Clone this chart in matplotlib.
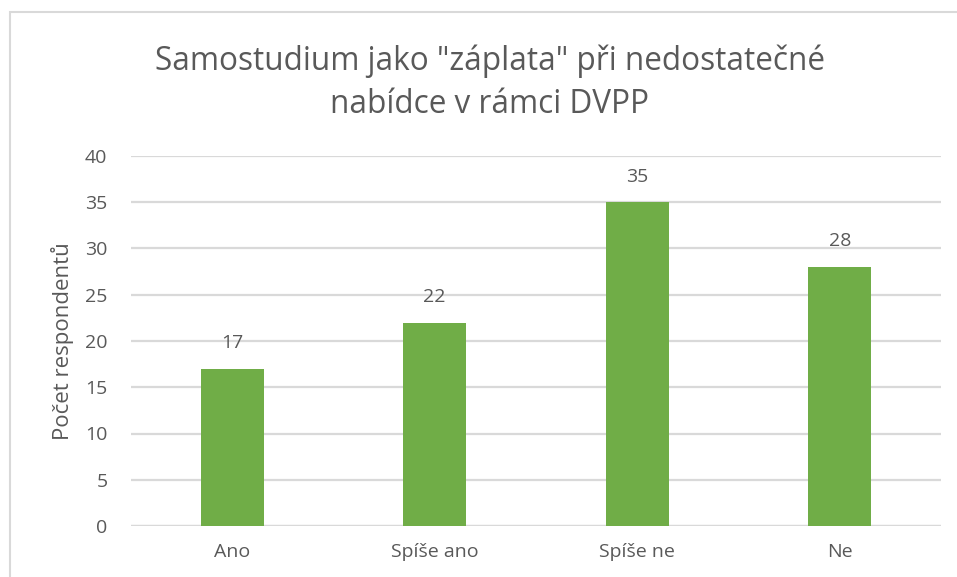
import matplotlib.pyplot as plt
from matplotlib.patches import Rectangle

categories = ['Ano', 'Spíše ano', 'Spíše ne', 'Ne']
values = [17, 22, 35, 28]
yticks = [0, 5, 10, 15, 20, 25, 30, 35, 40]

plt.rcParams['font.family'] = ['Open Sans', 'DejaVu Sans']
text_color = '#595959'
bar_color = '#70ad47'
grid_color = '#d9d9d9'

fig = plt.figure(figsize=(9.57, 5.77), dpi=100)
W, H = 957, 577
# axes in pixel coords: x 131..941, y 156..526 (top-down)
ax = fig.add_axes([131 / W, 1 - 526 / H, (941 - 131) / W, (526 - 156) / H])

x = list(range(len(categories)))
ax.bar(x, values, width=0.31, color=bar_color, zorder=3)
for xi, v in zip(x, values):
    ax.annotate(str(v), (xi, v), xytext=(0, 12), textcoords='offset points',
                ha='center', va='bottom', fontsize=14, color=text_color)

ax.set_xlim(-0.5, len(categories) - 0.5)
ax.set_ylim(0, 40)
ax.set_yticks(yticks)
ax.set_xticks(x)
ax.set_xticklabels(categories)
ax.yaxis.grid(True, color=grid_color, linewidth=1.6, zorder=0)
ax.set_axisbelow(True)
for s in ax.spines.values():
    s.set_visible(False)
ax.axhline(0, color=grid_color, linewidth=1.6, zorder=1)
ax.tick_params(axis='both', length=0, labelsize=14, labelcolor=text_color)
ax.tick_params(axis='y', pad=17)
ax.tick_params(axis='x', pad=12)
ax.set_ylabel('Počet respondentů', fontsize=16, color=text_color, labelpad=8)

fig.text(490 / W, 1 - 83 / H, 'Samostudium jako "záplata" při nedostatečné\nnabídce v rámci DVPP',
         ha='center', va='center', fontsize=22.7, color=text_color, linespacing=1.4)

# chart border (top and left visible)
fig.patches.append(Rectangle((10 / W, -0.1), 1.2, 1 - 12 / H + 0.1, transform=fig.transFigure,
                             fill=False, edgecolor=grid_color, linewidth=1.5))

fig.savefig('out.png', dpi=100)
